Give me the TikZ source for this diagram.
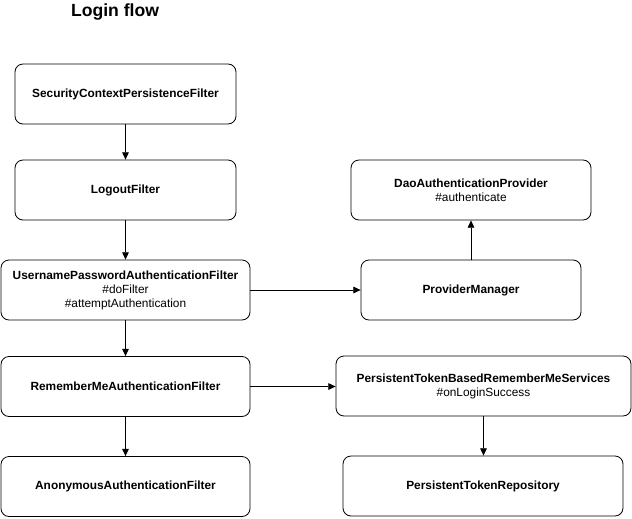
\documentclass[tikz,border=0pt]{standalone}
\usepackage{fontspec}
\setmainfont{Liberation Sans}
\usetikzlibrary{arrows.meta, positioning}

\tikzset{
  box/.style={draw, rounded corners=6pt, align=center, inner sep=0pt,
    minimum height=45pt, font=\fontsize{8.9}{10.5}\selectfont},
  arr/.style={-{Triangle[length=5.5pt,width=5pt]}, line width=0.6pt}
}

\begin{document}
\begin{tikzpicture}[x=0.75pt, y=-0.75pt, line width=0.6pt]
\useasboundingbox (0,0) rectangle (632,518);

\node[font=\fontsize{13.2}{15}\selectfont\bfseries] (title) at (115,11.5) {Login flow};

% filter chain
\node[box, minimum width=165.75pt] (sec) at (125.5,94) {\textbf{SecurityContextPersistenceFilter}};
\node[box, minimum width=165.75pt] (logout) at (125.5,190) {\textbf{LogoutFilter}};
\node[box, minimum width=186.75pt] (upaf) at (125.5,290) {\textbf{UsernamePasswordAuthenticationFilter}\\\#doFilter\\\#attemptAuthentication};
\node[box, minimum width=186.75pt] (rem) at (125.5,386.5) {\textbf{RememberMeAuthenticationFilter}};
\node[box, minimum width=186.75pt] (anon) at (125.5,486.5) {\textbf{AnonymousAuthenticationFilter}};

% right side
\node[box, minimum width=180pt] (dao) at (471,190) {\textbf{DaoAuthenticationProvider}\\\#authenticate};
\node[box, minimum width=165pt] (pm) at (471,290) {\textbf{ProviderManager}};
\node[box, minimum width=221.25pt] (ptb) at (483.5,386) {\textbf{PersistentTokenBasedRememberMeServices}\\\#onLoginSuccess};
\node[box, minimum width=210pt] (ptr) at (483,486) {\textbf{PersistentTokenRepository}};

\draw[arr] (sec) -- (logout);
\draw[arr] (logout) -- (upaf);
\draw[arr] (upaf) -- (rem);
\draw[arr] (rem) -- (anon);
\draw[arr] (upaf.east) -- (pm.west);
\draw[arr] (pm) -- (dao);
\draw[arr] (rem.east) -- (rem.east -| ptb.west);
\draw[arr] (ptb.south) -- (ptb.south |- ptr.north);
\end{tikzpicture}
\end{document}
